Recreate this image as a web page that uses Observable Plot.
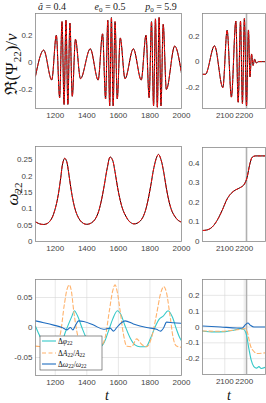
<!DOCTYPE html>
<html><head><meta charset="utf-8">
<script src="https://cdn.jsdelivr.net/npm/d3@7"></script>
<script src="https://cdn.jsdelivr.net/npm/@observablehq/plot@0.6"></script>
<style>
html,body{margin:0;padding:0;background:#fff;}
#root{position:relative;width:266px;height:403px;overflow:hidden;background:#fff;}
#root > svg{position:absolute;left:0;top:0;}
</style></head><body><div id="root"></div>
<script>
// ---------- data ----------
const waveLeftT = [1075,1127,1178,1207,1228,1243,1256,1268,1280,1293,1308,1328,1360,1422,1472,1500,1519,1533,1545,1556,1567,1579,1593,1612,1642,1695,1745,1775,1795,1810,1823,1835,1847,1858,1870,1884,1904,1957,2000];
const waveLeftV = [-0.10,0.09,-0.13,0.20,-0.26,0.30,-0.31,0.31,-0.31,0.29,-0.25,0.17,-0.12,0.10,-0.13,0.21,-0.27,0.31,-0.32,0.33,-0.32,0.30,-0.27,0.18,-0.12,0.10,-0.13,0.20,-0.26,0.30,-0.32,0.32,-0.33,0.33,-0.32,0.28,-0.20,0.12,-0.08];
const waveRightT = [1985,2000,2047,2090,2112,2134,2157,2169,2181,2191,2201,2212,2222,2230,2238,2246,2254,2262,2275,2310];
const waveRightV = [-0.10,-0.10,0.125,-0.205,0.248,-0.28,0.32,-0.32,0.32,-0.33,0.34,-0.35,0.25,-0.12,0.06,-0.03,0.02,-0.01,0.0,0.0];

const omegaLeftT = [1075,1100,1127,1150,1175,1200,1220,1235,1248,1260,1272,1285,1300,1315,1330,1350,1370,1390,1410,1430,1450,1470,1490,1510,1530,1548,1562,1578,1595,1612,1630,1650,1670,1695,1720,1745,1765,1785,1805,1825,1845,1855,1870,1888,1905,1922,1940,1960,1980,2000];
const omegaLeftV = [0.060,0.054,0.052,0.055,0.068,0.100,0.145,0.195,0.240,0.254,0.245,0.210,0.160,0.120,0.092,0.070,0.058,0.053,0.053,0.057,0.066,0.085,0.120,0.170,0.225,0.258,0.250,0.215,0.165,0.125,0.095,0.075,0.061,0.054,0.056,0.066,0.085,0.120,0.170,0.225,0.260,0.266,0.250,0.210,0.160,0.120,0.092,0.075,0.064,0.059];
const omegaRightT = [1985,2008,2034,2060,2086,2112,2133,2155,2181,2201,2215,2229,2241,2258,2310];
const omegaRightV = [0.056,0.059,0.073,0.107,0.158,0.217,0.246,0.263,0.276,0.293,0.327,0.395,0.430,0.437,0.437];

const dPhiLeftT = [1075,1106,1148,1201,1232,1264,1285,1306,1321,1342,1369,1400,1443,1485,1510,1537,1564,1594,1615,1642,1674,1705,1737,1775,1804,1831,1859,1884,1915,1943,1968,1989,2000];
const dPhiLeftV = [0.002,-0.016,-0.028,-0.032,-0.031,-0.008,0.006,0.019,0.028,0.019,0.0,-0.019,-0.029,-0.032,-0.025,-0.006,0.014,0.028,0.022,0.003,-0.017,-0.029,-0.032,-0.032,-0.018,0.0,0.014,0.019,0.028,0.017,-0.003,-0.017,-0.022];
const dALeftT = [1075,1117,1190,1232,1258,1275,1289,1302,1317,1338,1369,1422,1485,1516,1543,1564,1579,1594,1611,1632,1653,1684,1716,1747,1779,1810,1842,1867,1888,1905,1926,1947,1968,2000];
const dALeftV = [-0.031,-0.032,-0.032,-0.011,0.039,0.064,0.071,0.061,0.028,-0.008,-0.031,-0.034,-0.032,-0.017,0.028,0.061,0.071,0.058,0.028,-0.011,-0.031,-0.032,-0.019,-0.028,-0.032,-0.017,0.022,0.056,0.068,0.058,0.022,-0.017,-0.031,-0.033];
const dWLeftT = [1075,1127,1190,1243,1275,1296,1312,1327,1348,1380,1443,1506,1548,1569,1590,1611,1642,1695,1779,1842,1867,1888,1905,1947,2000];
const dWLeftV = [0.011,0.008,0.004,0.0,-0.004,0.0,-0.004,0.003,0.011,0.010,0.004,-0.003,-0.001,-0.006,0.0,0.006,0.011,0.006,0.0,-0.003,-0.006,0.0,0.009,0.008,0.007];

const dPhiRightT = [1985,2043,2103,2146,2181,2198,2212,2224,2236,2250,2264,2276,2288,2310];
const dPhiRightV = [-0.025,-0.031,-0.029,-0.021,-0.010,-0.015,-0.052,-0.135,-0.208,-0.250,-0.260,-0.250,-0.262,-0.254];
const dARightT = [1985,2078,2164,2202,2216,2224,2233,2247,2267,2310];
const dARightV = [-0.025,-0.027,-0.017,-0.010,-0.031,-0.073,-0.120,-0.150,-0.167,-0.163];
const dWRightT = [1985,2078,2164,2190,2207,2219,2233,2250,2310];
const dWRightV = [0.006,0.0,-0.006,-0.006,0.015,0.025,0.010,0.0,0.0];

const mergerT = [2212];

const xTicksLeft = [1200,1400,1600,1800,2000];
const xTicksRight = [2100,2200];
const yTicksWave = [-0.2,0,0.2];
const yTicksOmegaLeft = [0,0.05,0.1,0.15,0.2,0.25];
const yTicksOmegaRight = [0,0.1,0.2,0.3,0.4];
const yTicksDeltaLeft = [-0.05,0,0.05];
const yTicksDeltaRight = [-0.2,-0.1,0,0.1,0.2];

// ---------- helpers ----------
const zip = (T, V) => T.map((t, i) => ({t, v: V[i]}));
const W = 266, H = 403;
const C_CYAN = "#35c8c8", C_ORANGE = "#ffb26b", C_BLUE = "#1f6dc0";

function panel({xd, yd, L, R, T, B, xt, yt, grid, marks, vline}) {
  const m = [];
  if (grid) {
    m.push(Plot.gridX({ticks: xt, stroke: "#d6d6d6", strokeOpacity: 1, strokeWidth: 0.6}));
    m.push(Plot.gridY({ticks: yt, stroke: "#d6d6d6", strokeOpacity: 1, strokeWidth: 0.6}));
  }
  if (vline) m.push(Plot.ruleX(mergerT, {x: d => d, stroke: "#b0b0b0", strokeWidth: 1.6}));
  m.push(...marks);
  m.push(Plot.frame({stroke: "#8a8a8a", strokeWidth: 0.8}));
  m.push(Plot.axisX({ticks: xt, tickSize: 0, tickPadding: 4, fontSize: 8, fill: "#444", label: null, tickFormat: d => String(d)}));
  m.push(Plot.axisY({ticks: yt, tickSize: 0, tickPadding: 3, fontSize: 8, fill: "#444", label: null, tickFormat: d => String(d)}));
  return Plot.plot({
    width: W, height: H,
    marginLeft: L, marginRight: W - R, marginTop: T, marginBottom: H - B,
    x: {domain: xd}, y: {domain: yd},
    style: {background: "transparent", overflow: "visible", fontFamily: "Liberation Sans, Arial, sans-serif"},
    marks: m
  });
}

const pair = (data, curve) => [
  Plot.line(data, {x: "t", y: "v", stroke: "#000", strokeWidth: 1.0, curve, clip: true}),
  Plot.line(data, {x: "t", y: "v", stroke: "#ff1010", strokeWidth: 1.0, strokeDasharray: "3,2", curve, clip: true})
];
const deltas = (phi, A, w) => [
  Plot.line(phi, {x: "t", y: "v", stroke: C_CYAN, strokeWidth: 1.1, curve: "monotone-x", clip: true}),
  Plot.line(A, {x: "t", y: "v", stroke: C_ORANGE, strokeWidth: 1.1, strokeDasharray: "4,2.5", curve: "monotone-x", clip: true}),
  Plot.line(w, {x: "t", y: "v", stroke: C_BLUE, strokeWidth: 1.1, curve: "monotone-x", clip: true})
];

const root = document.getElementById("root");
const LX = [35, 181], RX = [202, 265];
const xdL = [1075, 2000], xdR = [1985, 2310];

root.append(panel({xd: xdL, yd: [-0.34, 0.36], L: LX[0], R: LX[1], T: 13, B: 108, xt: xTicksLeft, yt: yTicksWave,
  marks: pair(zip(waveLeftT, waveLeftV), "monotone-x")}));
root.append(panel({xd: xdR, yd: [-0.37, 0.38], L: RX[0], R: RX[1], T: 13, B: 108, xt: xTicksRight, yt: yTicksWave, vline: true,
  marks: pair(zip(waveRightT, waveRightV), "monotone-x")}));
root.append(panel({xd: xdL, yd: [0, 0.29], L: LX[0], R: LX[1], T: 146, B: 241, xt: xTicksLeft, yt: yTicksOmegaLeft,
  marks: pair(zip(omegaLeftT, omegaLeftV), "catmull-rom")}));
root.append(panel({xd: xdR, yd: [0, 0.48], L: RX[0], R: RX[1], T: 147, B: 241, xt: xTicksRight, yt: yTicksOmegaRight, vline: true,
  marks: pair(zip(omegaRightT, omegaRightV), "monotone-x")}));
root.append(panel({xd: xdL, yd: [-0.08, 0.08], L: LX[0], R: LX[1], T: 279, B: 375, xt: xTicksLeft, yt: yTicksDeltaLeft, grid: true,
  marks: deltas(zip(dPhiLeftT, dPhiLeftV), zip(dALeftT, dALeftV), zip(dWLeftT, dWLeftV))}));
root.append(panel({xd: xdR, yd: [-0.3, 0.3], L: RX[0], R: RX[1], T: 279, B: 374, xt: xTicksRight, yt: yTicksDeltaRight, grid: true, vline: true,
  marks: deltas(zip(dPhiRightT, dPhiRightV), zip(dARightT, dARightV), zip(dWRightT, dWRightV))}));

// ---------- text overlay: labels, legend ----------
const svg = d3.select(root).append("svg").attr("width", W).attr("height", H)
  .style("position", "absolute").style("left", 0).style("top", 0)
  .attr("font-family", "Liberation Serif, DejaVu Serif, serif");

function rich(g, parts, attrs) {
  const t = g.append("text");
  for (const [k, v] of Object.entries(attrs)) t.attr(k, v);
  for (const p of parts) {
    const s = t.append("tspan").text(p.s);
    if (p.i) s.attr("font-style", "italic");
    if (p.sub) s.attr("font-size", p.sub).attr("dy", p.dy);
    if (p.back) s.attr("dy", p.back);
  }
  return t;
}

// parameter labels
rich(svg, [{s: "â", i: 1}, {s: " = 0.4"}], {x: 52, y: 10, "text-anchor": "middle", "font-size": 10, fill: "#222"});
rich(svg, [{s: "e", i: 1}, {s: "0", sub: 7, dy: 2}, {s: " = 0.5", back: -2}], {x: 110, y: 10, "text-anchor": "middle", "font-size": 10, fill: "#222"});
rich(svg, [{s: "p", i: 1}, {s: "0", sub: 7, dy: 2}, {s: " = 5.9", back: -2}], {x: 161, y: 10, "text-anchor": "middle", "font-size": 10, fill: "#222"});

// y labels
rich(svg, [{s: "ℜ(Ψ"}, {s: "22", sub: 11, dy: 4}, {s: ")/", back: -4}, {s: "ν", i: 1}],
  {transform: "translate(17,64) rotate(-90)", "text-anchor": "middle", "font-size": 17, fill: "#111"});
rich(svg, [{s: "ω", i: 1}, {s: "22", sub: 11, dy: 4}],
  {transform: "translate(18,194) rotate(-90)", "text-anchor": "middle", "font-size": 17, fill: "#111"});
// x labels
rich(svg, [{s: "t", i: 1}], {x: 107, y: 400, "text-anchor": "middle", "font-size": 14, fill: "#111"});
rich(svg, [{s: "t", i: 1}], {x: 229, y: 400, "text-anchor": "middle", "font-size": 14, fill: "#111"});

// legend
const lg = svg.append("g");
lg.append("rect").attr("x", 40).attr("y", 336).attr("width", 62).attr("height", 34)
  .attr("fill", "#fff").attr("stroke", "#444").attr("stroke-width", 0.6);
const items = [
  {y: 341, c: C_CYAN, dash: null, parts: [{s: "Δ"}, {s: "φ", i: 1}, {s: "22", sub: 5.5, dy: 1.5}]},
  {y: 353, c: C_ORANGE, dash: "4,2.5", parts: [{s: "Δ"}, {s: "A", i: 1}, {s: "22", sub: 5.5, dy: 1.5}, {s: "/", back: -1.5}, {s: "A", i: 1}, {s: "22", sub: 5.5, dy: 1.5}]},
  {y: 364, c: C_BLUE, dash: null, parts: [{s: "Δ"}, {s: "ω", i: 1}, {s: "22", sub: 5.5, dy: 1.5}, {s: "/", back: -1.5}, {s: "ω", i: 1}, {s: "22", sub: 5.5, dy: 1.5}]}
];
for (const it of items) {
  const ln = lg.append("line").attr("x1", 42).attr("x2", 56).attr("y1", it.y).attr("y2", it.y)
    .attr("stroke", it.c).attr("stroke-width", 1.1);
  if (it.dash) ln.attr("stroke-dasharray", it.dash);
  rich(lg, it.parts, {x: 58, y: it.y + 2.5, "font-size": 7.5, fill: "#111"});
}
</script></body></html>
